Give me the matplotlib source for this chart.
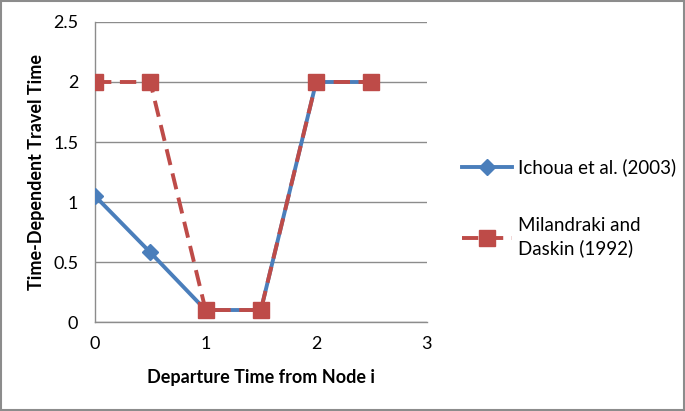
import matplotlib.pyplot as plt

# data
departure = [0, 0.5, 1, 1.5, 2, 2.5]
ichoua = [1.05, 0.58, 0.1, 0.1, 2, 2]
milandraki = [2, 2, 0.1, 0.1, 2, 2]
xticks = [0, 1, 2, 3]
yticks = [0, 0.5, 1, 1.5, 2, 2.5]

plt.rcParams['font.family'] = ['Lato', 'DejaVu Sans']

fig = plt.figure(figsize=(6.85, 4.11), dpi=100)
ax = fig.add_axes([0.1387, 0.2165, 0.4843, 0.73])

blue = '#4a7ebb'
red = '#be4b48'

ax.plot(departure, ichoua, color=blue, lw=2.8, marker='D', ms=8,
        label='Ichoua et al. (2003)', zorder=3)
ax.plot(departure, milandraki, color=red, lw=2.8, marker='s', ms=11.5,
        dashes=(4.2, 2.2), label='Milandraki and\nDaskin (1992)', zorder=4)

ax.set_xlim(0, 3)
ax.set_ylim(0, 2.5)
ax.set_xticks(xticks)
ax.set_yticks(yticks)
ax.set_yticklabels(['0', '0.5', '1', '1.5', '2', '2.5'])
ax.grid(axis='y', color='#8c8c8c', lw=1)
ax.set_axisbelow(True)
for s in ['top', 'right']:
    ax.spines[s].set_visible(False)
for s in ['left', 'bottom']:
    ax.spines[s].set_color('#8c8c8c')
    ax.spines[s].set_linewidth(1)
ax.tick_params(length=0, labelsize=13, pad=10)
ax.tick_params(axis='y', pad=12)

ax.set_xlabel('Departure Time from Node i', fontsize=13, fontweight='bold', labelpad=12)
ax.set_ylabel('Time-Dependent Travel Time', fontsize=13, fontweight='bold', labelpad=6)

leg = fig.legend(loc='upper left', bbox_to_anchor=(0.674, 0.615), frameon=False,
                 fontsize=13.5, handlelength=2.7, labelspacing=2.2, handletextpad=0.3,
                 borderpad=0, borderaxespad=0)
for t in leg.get_texts():
    t.set_linespacing(1.35)

# outer border of the picture
fig.patches.append(plt.Rectangle((0.002, 0.002), 0.996, 0.996, transform=fig.transFigure,
                                 fill=False, edgecolor='#8c8c8c', lw=1.5))

fig.savefig('out.png', dpi=100)
